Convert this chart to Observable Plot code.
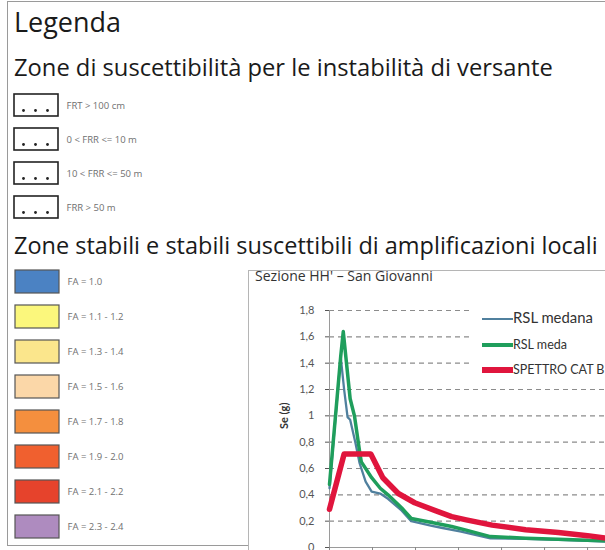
<!DOCTYPE html>
<html><head><meta charset="utf-8">
<script src="https://cdn.jsdelivr.net/npm/d3@7"></script>
<script src="https://cdn.jsdelivr.net/npm/@observablehq/plot@0.6"></script>
<style>
html,body{margin:0;padding:0;background:#fff;}
#page{position:relative;width:605px;height:550px;overflow:hidden;font-family:"Open Sans",sans-serif;}
.abs{position:absolute;white-space:nowrap;line-height:1;}
</style></head><body><div id="page"></div>
<script>
// ---- data ----
const legendTitle = "Legenda";
const heading1 = "Zone di suscettibilità per le instabilità di versante";
const heading2 = "Zone stabili e stabili suscettibili di amplificazioni locali";
const patternLabels = ["FRT > 100 cm", "0 < FRR <= 10 m", "10 < FRR <= 50 m", "FRR > 50 m"];
const faLabels = ["FA = 1.0", "FA = 1.1 - 1.2", "FA = 1.3 - 1.4", "FA = 1.5 - 1.6", "FA = 1.7 - 1.8", "FA = 1.9 - 2.0", "FA = 2.1 - 2.2", "FA = 2.3 - 2.4"];
const faColors = ["#4b82c3", "#fbf77c", "#fbe68c", "#fbd7a8", "#f48f3e", "#f0602f", "#e6432c", "#ae8bbf"];
const chartTitle = "Sezione HH' – San Giovanni";
const seriesNames = ["RSL medana", "RSL meda", "SPETTRO CAT B"];
const seriesColors = ["#50809e", "#1f9e5c", "#e0153d"];
const seriesWidths = [2.3, 3.5, 5.5];
const yTicks = [0, 0.2, 0.4, 0.6, 0.8, 1, 1.2, 1.4, 1.6, 1.8];
const xTicks = [0, 0.5, 1, 1.5, 2, 2.5, 3];
const periodMediana = [0, 0.13, 0.17, 0.21, 0.24, 0.30, 0.35, 0.42, 0.49, 0.59, 0.68, 0.84, 0.95, 1.19, 1.30, 1.53, 1.87, 2.28, 2.66, 3.0, 3.22];
const valueMediana  = [0.45, 1.45, 1.2, 0.99, 0.97, 0.80, 0.64, 0.50, 0.425, 0.41, 0.37, 0.28, 0.20, 0.165, 0.15, 0.12, 0.07, 0.065, 0.058, 0.05, 0.045];
const periodMedia = [0, 0.13, 0.16, 0.24, 0.29, 0.35, 0.37, 0.49, 0.59, 0.68, 0.84, 0.95, 1.19, 1.42, 1.6, 1.87, 2.28, 2.66, 3.0, 3.22];
const valueMedia  = [0.48, 1.45, 1.64, 1.13, 1.0, 0.73, 0.65, 0.53, 0.45, 0.40, 0.30, 0.22, 0.19, 0.16, 0.13, 0.083, 0.071, 0.063, 0.055, 0.05];
const periodSpettro = [0, 0.17, 0.48, 0.62, 0.80, 0.99, 1.23, 1.42, 1.59, 1.89, 2.28, 2.66, 3.0, 3.22];
const valueSpettro  = [0.29, 0.71, 0.71, 0.53, 0.41, 0.34, 0.28, 0.235, 0.21, 0.17, 0.135, 0.114, 0.09, 0.07];

// ---- helpers ----
const page = document.getElementById("page");
const ctx = document.createElement("canvas").getContext("2d");
function addText(str, left, baseline, size, opts = {}) {
  const family = opts.family || '"Open Sans"';
  const el = document.createElement("div");
  el.className = "abs";
  el.textContent = str;
  el.style.fontFamily = family;
  el.style.fontSize = size + "px";
  el.style.color = opts.color || "#1a1a1a";
  if (opts.weight) el.style.fontWeight = opts.weight;
  page.appendChild(el);
  if (opts.width) {
    const w = el.getBoundingClientRect().width;
    size = size * opts.width / w;
    el.style.fontSize = size + "px";
  }
  ctx.font = `${opts.weight || "normal"} ${size}px ${family}`;
  const m = ctx.measureText("Hg");
  const A = m.fontBoundingBoxAscent, D = m.fontBoundingBoxDescent;
  const off = (size - (A + D)) / 2 + A;
  el.style.left = left + "px";
  el.style.top = (baseline - off) + "px";
  return el;
}
function addBox(left, top, w, h, style) {
  const el = document.createElement("div");
  el.style.position = "absolute";
  el.style.left = left + "px"; el.style.top = top + "px";
  el.style.width = w + "px"; el.style.height = h + "px";
  Object.assign(el.style, style || {});
  page.appendChild(el);
  return el;
}

// outer legend frame
addBox(7, 1, 700, 545, {border: "1.5px solid #9a9a9a", boxSizing: "border-box"});

// headings
addText(legendTitle, 14, 33, 26, {width: 107});
addText(heading1, 14, 77, 20, {width: 539});
addText(heading2, 14, 255, 20, {width: 584});

// pattern legend (Plot)
const patPlot = Plot.plot({
  width: 240, height: 150, marginLeft: 14, marginRight: 182, marginTop: 0, marginBottom: 0,
  style: {fontFamily: "Open Sans", background: "transparent", overflow: "visible"},
  x: {axis: null},
  y: {axis: null, domain: patternLabels, range: [12, 140], paddingInner: 0.34, paddingOuter: 0},
  marks: [
    Plot.cell(patternLabels, {y: d => d, fill: "white", stroke: "#222", strokeWidth: 1.6}),
    Plot.dot(patternLabels, {y: d => d, dx: -13, dy: 5, r: 1.4, fill: "#222", stroke: null}),
    Plot.dot(patternLabels, {y: d => d, dx: -1, dy: 5, r: 1.4, fill: "#222", stroke: null}),
    Plot.dot(patternLabels, {y: d => d, dx: 11, dy: 5, r: 1.4, fill: "#222", stroke: null}),
    Plot.text(patternLabels, {y: d => d, text: d => d, frameAnchor: "right", textAnchor: "start", dx: 8, fill: "#707070", fontSize: 9.5})
  ]
});
Object.assign(patPlot.style, {position: "absolute", left: "0px", top: "80px"});
page.appendChild(patPlot);

// FA legend (Plot)
const faPlot = Plot.plot({
  width: 240, height: 285, marginLeft: 15, marginRight: 181, marginTop: 0, marginBottom: 0,
  style: {fontFamily: "Open Sans", background: "transparent", overflow: "visible"},
  x: {axis: null},
  y: {axis: null, domain: faLabels, range: [10, 278], paddingInner: 0.343, paddingOuter: 0},
  color: {domain: faLabels, range: faColors},
  marks: [
    Plot.cell(faLabels, {y: d => d, fill: d => d, stroke: "#555", strokeWidth: 1.2}),
    Plot.text(faLabels, {y: d => d, text: d => d, frameAnchor: "right", textAnchor: "start", dx: 8, fill: "#707070", fontSize: 9.5})
  ]
});
Object.assign(faPlot.style, {position: "absolute", left: "0px", top: "260px"});
page.appendChild(faPlot);

// inset chart frame
const frame = addBox(248, 270, 400, 300, {borderLeft: "1px solid #b5b5b5", borderTop: "1px solid #b5b5b5", background: "#fff", overflow: "hidden"});

const toRows = (ts, vs, name) => ts.map((t, i) => ({t, v: vs[i], name}));
const rows = [
  toRows(periodMediana, valueMediana, seriesNames[0]),
  toRows(periodMedia, valueMedia, seriesNames[1]),
  toRows(periodSpettro, valueSpettro, seriesNames[2])
];
const fmt = d => d === 0 ? "0" : d3.format(".1f")(d).replace(".", ",").replace(/,0$/, "");

const chart = Plot.plot({
  width: 357, height: 300, marginLeft: 80, marginRight: 0, marginTop: 39, marginBottom: 24,
  style: {fontFamily: "Lato", background: "transparent"},
  x: {domain: [0, 3.22]},
  y: {domain: [0, 1.8]},
  marks: [
    Plot.ruleY(yTicks.filter(d => d > 0), {stroke: "#8c8c8c", strokeDasharray: "5,4", strokeWidth: 1.1}),
    Plot.ruleY([0], {stroke: "#9a9a9a"}),
    Plot.ruleX([0], {y1: 0, y2: 1.8, stroke: "#9a9a9a"}),
    Plot.axisY({ticks: yTicks, tickFormat: fmt, tickSize: 4, tickPadding: 11, fontSize: 11, color: "#555", label: null}),
    Plot.axisX({ticks: xTicks, tickFormat: () => "", tickSize: 5, color: "#888", label: null}),
    Plot.text(["Se (g)"], {frameAnchor: "left", rotate: -90, dx: -45, fontWeight: "bold", fontSize: 11, fill: "#333"}),
    ...rows.map((r, i) => Plot.line(r, {x: "t", y: "v", stroke: seriesColors[i], strokeWidth: seriesWidths[i], strokeLinejoin: "round"}))
  ]
});
Object.assign(chart.style, {position: "absolute", left: "0px", top: "0px"});
frame.appendChild(chart);

// chart title
addText(chartTitle, 255, 282, 13, {width: 178, color: "#333"});

// chart legend (white panel over gridlines)
addBox(472, 302, 140, 80, {background: "#fff"});
const legendY = [319, 345, 370];
seriesNames.forEach((name, i) => {
  const w = seriesWidths[i];
  addBox(482, legendY[i] - w / 2, 31, w, {background: seriesColors[i]});
  addText(name, 513, legendY[i] + 4.5, 12.5, {family: "Lato", color: "#333", width: i === 0 ? 80 : undefined});
});
</script>
</body></html>
